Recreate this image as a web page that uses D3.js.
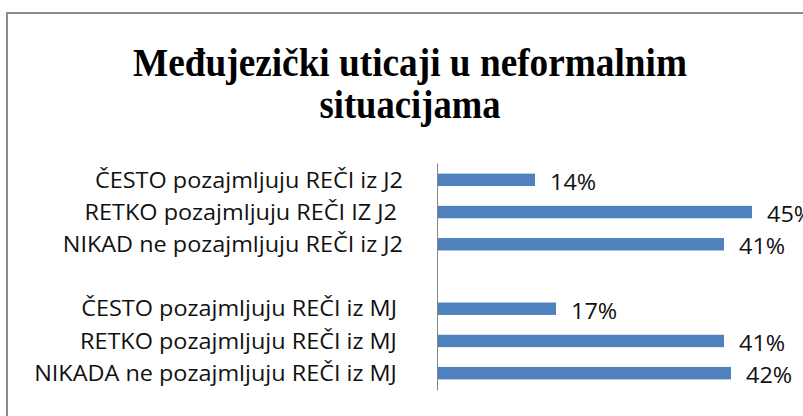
<!DOCTYPE html>
<html>
<head>
<meta charset="utf-8">
<script src="https://cdn.jsdelivr.net/npm/d3@7"></script>
<style>
  body { margin: 0; background: #fff; }
  svg text { white-space: pre; }
</style>
</head>
<body>
<script>
const width = 803,
  height = 416;

// Data (blank row separates the two groups)
const categories = [
  "ČESTO pozajmljuju REČI iz J2",
  "RETKO pozajmljuju REČI IZ J2 ",
  "NIKAD ne pozajmljuju REČI iz J2",
  "",
  "ČESTO pozajmljuju REČI iz MJ ",
  "RETKO pozajmljuju REČI iz MJ ",
  "NIKADA ne pozajmljuju REČI iz MJ "
];
const values = [0.14, 0.45, 0.41, null, 0.17, 0.41, 0.42];
const titleLines = ["Međujezički uticaji u neformalnim", "situacijama"];

const data = categories.map((c, i) => ({ key: i, label: c, value: values[i] }));

const labelFont = "'Open Sans', Lato, sans-serif";
const stretch = 1.09; // the source text is a bit wide for its height

function widen(sel) {
  sel.each(function() {
    const w = this.getComputedTextLength();
    if (w > 0) {
      d3.select(this)
        .attr("textLength", w * stretch)
        .attr("lengthAdjust", "spacingAndGlyphs");
    }
  });
}

const svg = d3
  .select("body")
  .append("svg")
  .attr("width", width)
  .attr("height", height);

// chart frame (cut off on the right and bottom in the original)
svg
  .append("rect")
  .attr("x", 7)
  .attr("y", 13)
  .attr("width", 840)
  .attr("height", 440)
  .attr("fill", "#fff")
  .attr("stroke", "#8c8c8c")
  .attr("stroke-width", 2);

// title
svg
  .append("g")
  .selectAll("text")
  .data(titleLines)
  .enter()
  .append("text")
  .attr("x", 410)
  .attr("y", (d, i) => 76 + i * 42)
  .attr("text-anchor", "middle")
  .attr("font-family", "'Liberation Serif', 'Times New Roman', serif")
  .attr("font-weight", "bold")
  .attr("font-size", 39)
  .attr("textLength", (d, i) => (i === 0 ? 554 : 181))
  .attr("lengthAdjust", "spacingAndGlyphs")
  .attr("fill", "#000")
  .text(d => d);

const xScale = d3
  .scaleLinear()
  .domain([0, 0.5])
  .range([437, 787]);

const yScale = d3
  .scaleBand()
  .domain(data.map(d => d.key))
  .range([163, 390])
  .paddingInner(0.615)
  .paddingOuter(0.33);

// bars
svg
  .append("g")
  .selectAll("rect")
  .data(data.filter(d => d.value != null))
  .enter()
  .append("rect")
  .attr("x", xScale(0))
  .attr("y", d => yScale(d.key))
  .attr("width", d => xScale(d.value) - xScale(0))
  .attr("height", yScale.bandwidth())
  .attr("fill", "#4f81bd");

// value labels
svg
  .append("g")
  .selectAll("text")
  .data(data.filter(d => d.value != null))
  .enter()
  .append("text")
  .attr("x", d => xScale(d.value) + 15)
  .attr("y", d => yScale(d.key) + yScale.bandwidth() / 2 + 1.5)
  .attr("dominant-baseline", "central")
  .attr("font-family", labelFont)
  .attr("font-size", 21.5)
  .attr("fill", "#111")
  .text(d => d3.format(".0%")(d.value))
  .call(widen);

// category axis
const yAxis = d3
  .axisLeft(yScale)
  .tickSize(0)
  .tickSizeOuter(0)
  .tickPadding(34)
  .tickFormat(k => categories[k]);

const axisG = svg
  .append("g")
  .attr("transform", `translate(${xScale(0)},0)`)
  .call(yAxis);

axisG.select(".domain").attr("stroke", "#868686").attr("stroke-width", 1);
axisG
  .selectAll("text")
  .attr("font-family", labelFont)
  .attr("font-size", 21.5)
  .attr("fill", "#111")
  .attr("dy", "0.36em")
  .call(widen);
</script>
</body>
</html>
